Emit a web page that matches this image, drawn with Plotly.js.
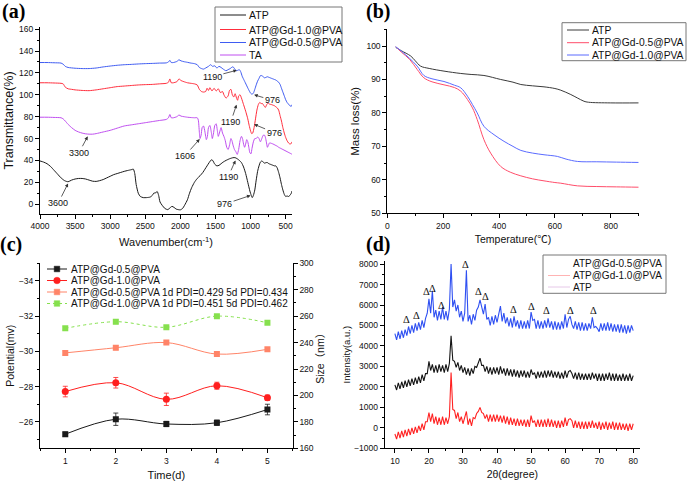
<!DOCTYPE html>
<html><head><meta charset="utf-8">
<script src="https://cdn.plot.ly/plotly-3.0.1.min.js"></script>
<style>html,body{margin:0;padding:0;background:#fff}#chart{width:688px;height:481px}</style>
</head><body><div id="chart"></div>
<script>
// ---------- (a) FTIR ----------
const FTIR_ATP_WN = [4000,3950,3900,3850,3800,3750,3700,3650,3600,3550,3500,3450,3400,3350,3300,3250,3200,3150,3100,3050,3000,2950,2900,2850,2800,2750,2700,2670,2650,2630,2600,2570,2530,2480,2430,2400,2380,2350,2330,2310,2290,2260,2220,2180,2150,2120,2090,2060,2030,2000,1970,1940,1900,1870,1840,1800,1760,1720,1680,1650,1620,1590,1560,1540,1510,1480,1450,1420,1390,1350,1300,1250,1220,1190,1160,1130,1100,1070,1040,1010,990,976,960,940,920,900,880,860,840,820,800,780,760,740,720,700,680,660,640,620,600,580,560,540,520,500,480,460,440,420,410];
const FTIR_ATP_T = [39.5,38.5,37,34.5,31,27.5,24,21.5,20.5,22,23,23.5,23.5,23,22,21,20.8,21.5,22.5,24,25.5,27,28,29,30,30.8,31.5,32,28,18,10,7,6,6,6.5,8,10,10.5,11.5,8,2,-1,-4,-5,-3.5,-2,-3,-4.5,-5,-5.2,-4,-1,4,10,15,20,23.5,26,29,32,35,38,40.5,40,36.5,35,35.5,37,38.5,40,41.5,42.5,42.5,41.5,40,38,34,28,20,12,8,6,8,13,22,30,35,38.5,39.5,38.5,37.5,38,38,37,36.5,36,35.5,35,35,33,29,24,18,13,9,7,7.5,7,8,10,12];

const FTIR_GD10_WN = [4000,3900,3800,3700,3670,3640,3600,3550,3500,3400,3300,3200,3100,3000,2900,2800,2700,2600,2500,2400,2300,2200,2170,2150,2130,2100,2050,2020,1990,1950,1900,1850,1800,1760,1730,1700,1670,1640,1620,1600,1580,1550,1520,1490,1460,1430,1400,1380,1350,1320,1300,1280,1260,1240,1220,1200,1185,1170,1150,1130,1100,1070,1040,1020,1000,985,970,950,930,910,890,870,850,830,810,790,770,750,730,700,680,660,640,620,600,580,560,540,520,500,480,460,440,420,410];
const FTIR_GD10_T = [111,111,110.8,110.5,110,107,105.5,105,104.5,104,103.8,104.5,105.5,106.5,107.5,108,108.5,109,109.3,109.5,110,110.5,111.5,114.5,111,111,112,114.5,113,112,111,110.5,110,109,105,103,102.5,103,106,104,106.5,103.5,106,103.5,105.5,102,103,100,97,99,104,105,100,98,101,97,95,99,100,97,91,85,78,72,67,64.5,65,70,78,86,91,93,92,92,90,88.5,91,92.5,91.5,91,90.5,90,89,88,86,81,76,70,65,61,58,56,55,55.5,57];

const FTIR_GD05_WN = [4000,3900,3800,3700,3670,3640,3600,3500,3400,3300,3200,3100,3000,2900,2800,2700,2600,2500,2400,2300,2200,2170,2150,2130,2100,2050,2020,1990,1950,1900,1850,1800,1760,1730,1700,1670,1640,1600,1570,1540,1510,1480,1450,1420,1390,1350,1320,1290,1260,1240,1220,1200,1180,1160,1140,1120,1090,1060,1030,1000,980,960,940,920,900,880,860,840,820,800,780,760,740,720,700,680,660,640,620,600,580,560,540,520,500,480,460,440,420,410];
const FTIR_GD05_T = [129.5,129.5,129.3,129,128,126,125,124.3,124,124,124.5,125.5,126.3,127,127.5,127.8,128.2,128.5,128.7,129,129.2,130,131.5,129.5,129.5,130.5,132,131,130.3,129.7,129,128.5,127.5,125,124,123.5,124.5,126,127.5,126,126.5,124.5,126,125,123.5,122,123,124,125.5,125,123,122,122.5,123,121,117,113,109,105,101.5,100.5,101.5,105,109,112.5,115,117.5,117.5,116.5,115.5,116,116.5,116,115.5,115,114.5,114,113.5,112.5,111.5,109.5,106,102.5,99,95.5,93,91.5,90,89.5,91];

const FTIR_TA_WN = [4000,3900,3800,3700,3670,3640,3600,3550,3500,3450,3400,3350,3300,3250,3200,3100,3000,2900,2800,2700,2600,2500,2400,2300,2200,2170,2150,2130,2100,2050,2020,1990,1950,1900,1850,1800,1760,1745,1730,1720,1705,1690,1670,1650,1630,1615,1600,1580,1560,1545,1530,1510,1490,1475,1460,1440,1420,1400,1380,1360,1340,1320,1300,1280,1265,1250,1230,1210,1190,1170,1150,1130,1115,1100,1085,1070,1055,1040,1025,1010,995,980,960,940,920,900,880,860,840,820,800,785,770,760,745,730,700,680,650,620,600,570,540,510,480,450,420,410];
const FTIR_TA_T = [79.5,79.5,79.3,79,78,76,73,70,67.5,66,65,64.3,64,64,64.5,66,67.5,69.5,71.5,72.5,73.5,74.5,75.5,76.5,77.5,79,82,79,79,80,81.5,80.5,80,79.5,79.2,79,79,77,66,60,63,70,71.5,66,59,62,70,72,66,60,64,72,73.5,68,62,66,70,65,62,58,52,50,54,60,58,54,50,48,45.5,50,58,62,60,55,52,55,59,57,52,47,46,51,57,60,60,61.5,60,57,60,63,63,60,55,52,54,56,55.5,55,54,53,52,51,50,49,48,47,46,45.5];

const FTIR_NAMES = ['ATP','ATP@Gd-1.0@PVA','ATP@Gd-0.5@PVA','TA'];
const FTIR_COLORS = ['#1a1a1a','#ff2d3c','#3f5cf2','#c04ff0'];
// arrow labels: text, head (wn, %T), text position (wn, %T)
const FTIR_LBL_TEXT = ['3600','3300','1606','1190','1190','1190','976','976','976'];
const FTIR_LBL_HEAD_WN = [3600,3320,1725,1195,1200,1215,950,950,1000];
const FTIR_LBL_HEAD_T = [19,62,59.5,122.5,91,40,100,73,8];
const FTIR_LBL_TXT_WN = [3740,3445,1940,1545,1283,1320,690,665,1370];
const FTIR_LBL_TXT_T = [1,47,44,116.5,75,25,95,65.5,0];

// ---------- (b) TGA ----------
const TGA_T_ATP = [30,50,84,100,119,150,203,263,300,346,406,450,478,520,561,600,621,657,680,704,720,800,900];
const TGA_M_ATP = [99.6,98.6,97,95.6,94,93.3,92.5,91.8,91.5,91.2,90,89.2,88.5,88.1,87.8,87.3,86.8,85.5,84.5,83.5,83.2,83,83];
const TGA_T_GD05 = [30,50,80,107,131,160,203,240,263,287,305,322,346,370,406,440,478,520,561,600,621,681,750,820,900];
const TGA_M_GD05 = [99.8,98.2,96,93,90.5,89.3,88.4,87.6,86.5,84,81.5,78,72,68,64,62.3,61.2,60.3,59.7,59.2,59,58.2,58,57.9,57.8];
const TGA_T_GD10 = [30,50,80,107,131,160,203,240,263,287,305,322,346,382,418,450,478,520,561,609,640,681,750,820,900];
const TGA_M_GD10 = [99.8,98.5,96.3,94,91.2,90.2,89.4,88.3,87.5,85,82.5,80,76,73.5,71.5,70,68.8,68,67.5,67,66.2,65.5,65.4,65.3,65.2];
const TGA_NAMES = ['ATP','ATP@Gd-0.5@PVA','ATP@Gd-1.0@PVA'];
const TGA_COLORS = ['#3a3a3a','#ff4d6a','#5a6bff'];

// ---------- (c) zeta potential & size ----------
const TIME_D = [1,2,3,4,5];
const ZETA_GD05 = [-25.3,-26.15,-25.88,-25.95,-26.7];
const ZETA_GD05_ERR = [0.12,0.35,0.15,0.15,0.3];
const ZETA_GD10 = [-27.72,-28.22,-27.28,-28.05,-27.37];
const ZETA_GD10_ERR = [0.3,0.3,0.35,0.2,0.15];
const SIZE_GD05 = [232.2,236.1,240,231.3,234.9];
const SIZE_GD05_ERR = [1.5,1.5,1.2,1.5,1.2];
const SIZE_GD10 = [250.8,255.8,251.6,260,255];
const SIZE_GD10_ERR = [1.2,1.5,1,1,1.2];
const ZS_NAMES = ['ATP@Gd-0.5@PVA','ATP@Gd-1.0@PVA','ATP@Gd-0.5@PVA 1d PDI=0.429 5d PDI=0.434','ATP@Gd-1.0@PVA 1d PDI=0.451 5d PDI=0.462'];
const ZS_COLORS = ['#1a1a1a','#ff1f1f','#ff8468','#86e04e'];
const ZS_SYMBOLS = ['square','circle','square','square'];

// ---------- (d) XRD ----------
const XRD_2THETA = [10,10.5,11,11.5,12,12.5,13,13.5,14,14.5,
15,15.5,16,16.5,17,17.5,18,18.5,19,19.5,
20,20.5,21,21.5,22,22.5,23,23.5,24,24.5,
25,25.5,26,26.5,27,27.5,28,28.5,29,29.5,
30,30.5,31,31.5,32,32.5,33,33.5,34,34.5,
35,35.5,36,36.5,37,37.5,38,38.5,39,39.5,
40,40.5,41,41.5,42,42.5,43,43.5,44,44.5,
45,45.5,46,46.5,47,47.5,48,48.5,49,49.5,
50,50.5,51,51.5,52,52.5,53,53.5,54,54.5,
55,55.5,56,56.5,57,57.5,58,58.5,59,59.5,
60,60.5,61,61.5,62,62.5,63,63.5,64,64.5,
65,65.5,66,66.5,67,67.5,68,68.5,69,69.5,
70,70.5,71,71.5,72,72.5,73,73.5,74,74.5,
75,75.5,76,76.5,77,77.5,78,78.5,79,79.5,
80];
const XRD_GD05 = [4600,4300,4700,4350,4750,4400,4800,4500,4950,4600,
5000,4650,5100,4750,5150,4800,5250,4900,5350,5600,
6300,5600,6700,5400,5750,5250,5700,5300,5900,5300,
5700,5250,5800,8000,5900,6250,5700,6000,5400,5700,
5200,5600,7700,5200,5500,5050,5550,5250,5750,5900,
6250,5850,5550,6050,5300,5400,5000,5450,5050,5500,
5150,5550,5950,5200,5600,5100,5400,4950,5350,4900,
5450,4950,5250,4850,5250,4850,5200,4850,5250,4850,
5650,5250,5300,4850,5250,4850,5200,4850,5250,4900,
5350,4900,5200,4800,5200,4800,5150,4800,5200,4850,
5550,4900,5300,5450,5050,4850,5200,4800,5150,4750,
5150,4750,5100,4750,5100,4850,5400,4900,4950,4850,
4700,5100,4750,5100,4750,5150,4750,5100,4700,5050,
4700,5050,4650,5050,4650,5000,4600,5000,4650,5000,
4750];
const XRD_ATP = [2100,1850,2200,1900,2250,1950,2300,2000,2350,2050,
2400,2100,2450,2150,2500,2200,2600,2300,2650,2650,
3250,2800,3100,2700,3050,2700,3100,2750,3050,2700,
3100,2750,3150,4500,3300,3250,2950,3200,2800,3050,
2700,2950,2600,2900,2550,2900,2650,3000,2950,3200,
3400,3050,3050,2750,3000,2650,2950,2600,2950,2650,
2950,2600,3000,2650,2900,2550,2900,2550,2850,2500,
2850,2500,2800,2450,2800,2500,2800,2450,2750,2450,
2850,2600,2700,2400,2750,2450,2750,2450,2800,2450,
2800,2500,2800,2450,2750,2450,2750,2400,2700,2400,
2800,2450,2750,2800,2650,2400,2700,2350,2700,2350,
2650,2350,2650,2350,2650,2350,2700,2400,2650,2300,
2650,2300,2650,2300,2650,2350,2700,2300,2650,2300,
2650,2300,2600,2300,2650,2300,2600,2300,2650,2300,
2550];
const XRD_GD10 = [-300,-550,-200,-500,-150,-450,-100,-400,-50,-350,
0,-300,50,-250,100,-150,200,-100,300,300,
750,300,700,200,550,150,500,150,550,150,
500,200,550,2700,900,850,450,750,300,550,
200,450,800,150,450,100,500,450,700,800,
1000,750,700,450,650,300,650,300,650,300,
650,300,600,250,600,200,550,150,500,150,
450,100,450,100,400,100,400,50,400,50,
600,250,350,50,400,50,400,50,400,50,
450,50,400,50,350,0,350,0,350,50,
500,100,400,450,350,0,350,0,300,-50,
300,-50,300,-50,300,0,350,0,250,-50,
300,-100,250,-50,300,-100,250,-50,300,-100,
250,-100,250,-100,200,-100,200,-150,200,-100,
200];
const XRD_NAMES = ['ATP@Gd-0.5@PVA','ATP@Gd-1.0@PVA','ATP'];
const XRD_COLORS = ['#2f50f2','#ff2222','#141414'];
const XRD_LEGEND_COLORS = ['#ffffff','#ffb3b3','#e6c8e8'];
const XRD_PEAK_2THETA = [13.3,16.2,19.3,21.0,23.6,26.3,30.7,34.6,36.7,44.9,50,54.6,61.5,68.2];
const XRD_PEAK_I = [5300,5500,6640,6800,5990,8280,7980,6650,6400,5780,5940,5740,5740,5740];

// ---------- helpers ----------
const W = 688, H = 481;
const SANS = 'Liberation Sans, Arial, Noto Sans CJK SC, sans-serif';
const SERIF = 'Liberation Serif, Times New Roman, serif';
const px = x => x / W;
const py = y => 1 - y / H;
function minorOf(d){ return {dtick:d, ticks:'outside', ticklen:2, tickwidth:1, tickcolor:'#000', showgrid:false}; }
function ax(extra){
  return Object.assign({showline:true, linecolor:'#000', linewidth:1, ticks:'outside', ticklen:4, tickwidth:1,
    tickcolor:'#000', showgrid:false, zeroline:false, fixedrange:true,
    tickfont:{family:SANS, size:8.5, color:'#111'}}, extra);
}
function ttl(text, size, standoff){ return {text:text, font:{family:SANS, size:size, color:'#111'}, standoff:standoff}; }

const traces = [];
// (a)
[[FTIR_ATP_WN,FTIR_ATP_T],[FTIR_GD10_WN,FTIR_GD10_T],[FTIR_GD05_WN,FTIR_GD05_T],[FTIR_TA_WN,FTIR_TA_T]].forEach((d,i)=>{
  traces.push({type:'scatter', mode:'lines', x:d[0], y:d[1], name:FTIR_NAMES[i], xaxis:'x', yaxis:'y',
    line:{color:FTIR_COLORS[i], width:1, shape:'spline', smoothing:0.6}, hoverinfo:'skip'});
});
// (b)
[[TGA_T_ATP,TGA_M_ATP],[TGA_T_GD05,TGA_M_GD05],[TGA_T_GD10,TGA_M_GD10]].forEach((d,i)=>{
  traces.push({type:'scatter', mode:'lines', x:d[0], y:d[1], name:TGA_NAMES[i], xaxis:'x2', yaxis:'y2',
    line:{color:TGA_COLORS[i], width:1, shape:'spline', smoothing:1}, hoverinfo:'skip'});
});
// (c)
[[ZETA_GD05,ZETA_GD05_ERR,'y3'],[ZETA_GD10,ZETA_GD10_ERR,'y3'],[SIZE_GD05,SIZE_GD05_ERR,'y5'],[SIZE_GD10,SIZE_GD10_ERR,'y5']].forEach((d,i)=>{
  traces.push({type:'scatter', mode:'lines+markers', x:TIME_D, y:d[0], name:ZS_NAMES[i], xaxis:'x3', yaxis:d[2],
    line:{color:ZS_COLORS[i], width:1, shape:'spline', smoothing:1, dash: i===3 ? 'dot' : 'solid'},
    marker:{symbol:ZS_SYMBOLS[i], size: i===1 ? 7 : 6, color:ZS_COLORS[i]},
    error_y:{type:'data', array:d[1], visible:true, thickness:0.8, width:2.5, color:ZS_COLORS[i]}, hoverinfo:'skip'});
});
// (d)
[XRD_GD05, XRD_GD10, XRD_ATP].forEach((ys,i)=>{
  traces.push({type:'scatter', mode:'lines', x:XRD_2THETA, y:ys, name:XRD_NAMES[i], xaxis:'x4', yaxis:'y4',
    line:{color:XRD_COLORS[i], width:1.1}, hoverinfo:'skip'});
});

const annotations = [];
const shapes = [];
// panel labels
[['(a)',13.5,11],['(b)',378,11],['(c)',11.5,244],['(d)',378,244]].forEach(p=>{
  annotations.push({xref:'paper', yref:'paper', x:px(p[1]), y:py(p[2]), text:'<b>'+p[0]+'</b>', showarrow:false,
    xanchor:'center', yanchor:'middle', font:{family:SERIF, size:20, color:'#000'}});
});
// FTIR arrow labels
FTIR_LBL_TEXT.forEach((t,i)=>{
  annotations.push({xref:'x', yref:'y', axref:'x', ayref:'y', x:FTIR_LBL_HEAD_WN[i], y:FTIR_LBL_HEAD_T[i],
    ax:FTIR_LBL_TXT_WN[i], ay:FTIR_LBL_TXT_T[i], text:t, showarrow:true, arrowhead:2, arrowsize:0.9,
    arrowwidth:0.8, arrowcolor:'#333', standoff:0, font:{family:SANS, size:9, color:'#111'}});
});
// XRD peak markers
XRD_PEAK_2THETA.forEach((x,i)=>{
  annotations.push({xref:'x4', yref:'y4', x:x, y:XRD_PEAK_I[i], text:'Δ', showarrow:false, borderpad:0,
    font:{family:SERIF, size:10.5, color:'#111'}});
});

// custom legends
function legend(names, colors, o){
  if (o.box) shapes.push({type:'rect', xref:'paper', yref:'paper', x0:px(o.box[0]), y0:py(o.box[1]), x1:px(o.box[2]), y1:py(o.box[3]),
    line:{color:'#777', width:1}, fillcolor:'rgba(255,255,255,0)'});
  names.forEach((n,i)=>{
    const y = o.rows[i];
    shapes.push({type:'line', xref:'paper', yref:'paper', x0:px(o.l0), x1:px(o.l1), y0:py(y), y1:py(y),
      line:{color:colors[i], width:1, dash:(o.dash && o.dash[i]) || 'solid'}});
    if (o.sym) {
      const c = (o.l0+o.l1)/2, s = o.sym[i]==='circle' ? 3.3 : 2.8;
      shapes.push({type: o.sym[i]==='circle' ? 'circle' : 'rect', xref:'paper', yref:'paper',
        x0:px(c-s), x1:px(c+s), y0:py(y+s), y1:py(y-s), line:{color:colors[i], width:0.5}, fillcolor:colors[i]});
    }
    annotations.push({xref:'paper', yref:'paper', x:px(o.tx), y:py(y), text:n, showarrow:false, xanchor:'left', yanchor:'middle',
      font:{family:SANS, size:o.fs, color:'#111'}, borderpad:0});
  });
}
legend(FTIR_NAMES, FTIR_COLORS, {box:[215,7,342,62], rows:[15,29.5,42.5,55], l0:220, l1:246, tx:248, fs:10.5});
legend(TGA_NAMES, TGA_COLORS, {box:[562,22.7,686,60.7], rows:[30,42.7,55], l0:567, l1:589, tx:591, fs:10.3});
legend(ZS_NAMES, ZS_COLORS, {rows:[269,280.5,292,303.5], l0:47, l1:67, tx:69.5, fs:10, sym:ZS_SYMBOLS, dash:['solid','solid','solid','dot']});
legend(XRD_NAMES, XRD_LEGEND_COLORS, {box:[543,255,666,293.3], rows:[263.5,275.5,287], l0:548, l1:570, tx:572, fs:10});

const layout = {
  width:W, height:H, margin:{l:0,r:0,t:0,b:0}, paper_bgcolor:'#fff', plot_bgcolor:'rgba(0,0,0,0)', showlegend:false,
  font:{family:SANS, size:9, color:'#111'},
  xaxis: ax({domain:[px(40),px(292)], anchor:'y', range:[4000,410], tick0:0, dtick:500, minor:minorOf(250),
    title:ttl('Wavenumber(cm<sup>-1</sup>)', 11, 8)}),
  yaxis: ax({domain:[py(214),py(27)], anchor:'x', range:[-9,162], tick0:0, dtick:20, minor:minorOf(10),
    title:ttl('Transmittance(%)', 12.5, 2)}),
  xaxis2: ax({domain:[px(387.3),px(638.7)], anchor:'y2', range:[0,900], tick0:0, dtick:200, minor:minorOf(100),
    title:ttl('Temperature(℃)', 10.5, 6)}),
  yaxis2: ax({domain:[py(213.3),py(29.3)], anchor:'x2', range:[50,105], tick0:0, dtick:10, minor:minorOf(5),
    title:ttl('Mass loss(%)', 11.5, 4)}),
  xaxis3: ax({domain:[px(40),px(292.7)], anchor:'y3', range:[0.5,5.5], tick0:0, dtick:1, minor:minorOf(0.5),
    title:ttl('Time(d)', 11, 6)}),
  yaxis3: ax({domain:[py(448.3),py(263.3)], anchor:'x3', range:[-24.5,-35], tick0:0, dtick:2, minor:minorOf(1),
    title:ttl('Potential(mv)', 10.5, 2)}),
  yaxis5: ax({overlaying:'y3', side:'right', anchor:'x3', range:[160,300], tick0:0, dtick:20, minor:minorOf(10),
    title:ttl('Size（nm）', 10.5, 1)}),
  xaxis4: ax({domain:[px(384.7),px(640)], anchor:'y4', range:[7,82], tick0:0, dtick:10, minor:minorOf(5),
    title:ttl('2θ(degree)', 10.5, 6)}),
  yaxis4: ax({domain:[py(448.3),py(261)], anchor:'x4', range:[-1000,8150], tick0:0, dtick:1000, minor:minorOf(500),
    title:ttl('Intensity(a.u.)', 9.5, 1)}),
  annotations:annotations, shapes:shapes
};
Plotly.newPlot('chart', traces, layout, {staticPlot:true, displayModeBar:false});
</script></body></html>
